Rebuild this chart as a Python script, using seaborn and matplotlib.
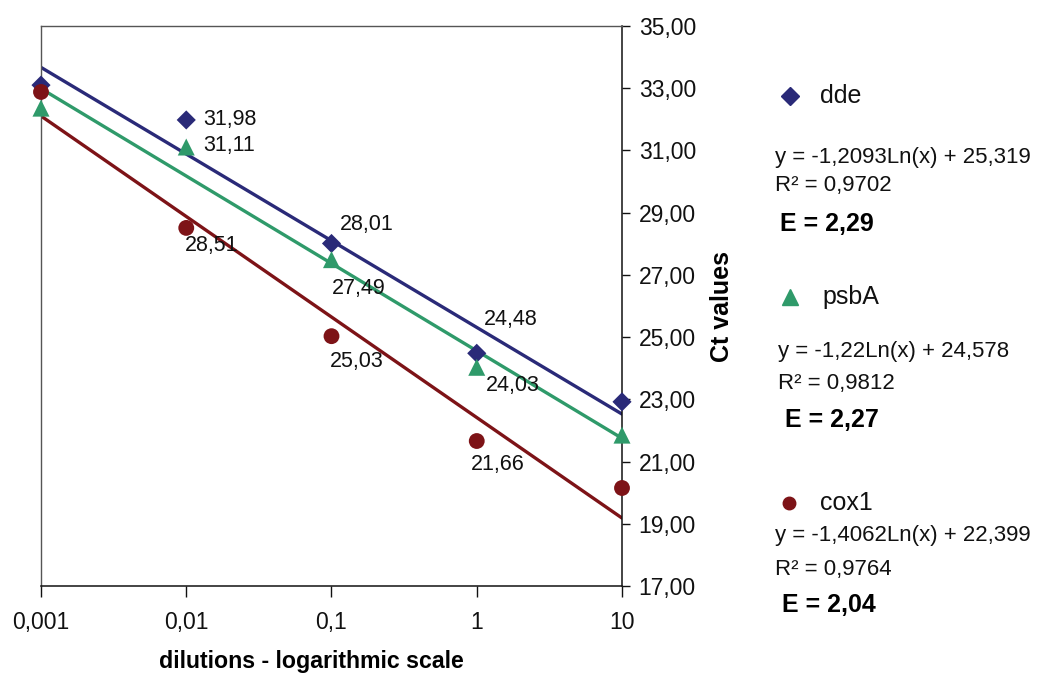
import numpy as np
import pandas as pd
import matplotlib
matplotlib.use("Agg")
import matplotlib.pyplot as plt
from matplotlib.ticker import FixedLocator, FuncFormatter, NullLocator
import seaborn as sns

# ---- data ----
dilutions = [0.001, 0.01, 0.1, 1, 10]
dilution_labels = ["0,001", "0,01", "0,1", "1", "10"]
dde = [33.10, 31.98, 28.01, 24.48, 22.92]
psbA = [32.36, 31.11, 27.49, 24.03, 21.85]
cox1 = [32.88, 28.51, 25.03, 21.66, 20.15]
series_names = ["dde", "psbA", "cox1"]
equations = ["y = -1,2093Ln(x) + 25,319", "y = -1,22Ln(x) + 24,578", "y = -1,4062Ln(x) + 22,399"]
r2_texts = ["R² = 0,9702", "R² = 0,9812", "R² = 0,9764"]
eff_texts = ["E = 2,29", "E = 2,27", "E = 2,04"]
y_ticks = [17, 19, 21, 23, 25, 27, 29, 31, 33, 35]

colors = {"dde": "#2a2a78", "psbA": "#2f9a6a", "cox1": "#7d1317"}
markers = {"dde": "D", "psbA": "^", "cox1": "o"}
msizes = {"dde": 95, "psbA": 150, "cox1": 130}

sns.set_style("white")
plt.rcParams["font.family"] = ["Liberation Sans", "DejaVu Sans"]

fig = plt.figure(figsize=(10.46, 6.75), dpi=100)
ax = fig.add_axes([41 / 1046, 89 / 675, 581 / 1046, 560 / 675])

values = {"dde": dde, "psbA": psbA, "cox1": cox1}
df = pd.concat([pd.DataFrame({"dilution": dilutions, "ct": values[n], "gene": n}) for n in series_names])

# trendlines (log fit)
xs = np.logspace(-3, 1, 200)
for n in series_names:
    k, b = np.polyfit(np.log(dilutions), values[n], 1)
    sns.lineplot(x=xs, y=k * np.log(xs) + b, ax=ax, color=colors[n], lw=2.4, zorder=2)

for n in series_names:
    sub = df[df.gene == n]
    sns.scatterplot(data=sub, x="dilution", y="ct", ax=ax, color=colors[n], marker=markers[n],
                    s=msizes[n], edgecolor="none", zorder=3, clip_on=False)

ax.set_xscale("log")
ax.set_xlim(0.001, 10)
ax.set_ylim(17, 35)

# data labels
label_offsets = {
    ("dde", 1): (12, 0), ("psbA", 1): (12, 1), ("dde", 2): (6, 14),
    ("psbA", 2): (0, -21), ("cox1", 1): (-1, -13), ("cox1", 2): (-1.5, -18),
    ("dde", 3): (5, 24), ("psbA", 3): (6.5, -13), ("cox1", 3): (-4.5, -17),
}
for (n, i), off in label_offsets.items():
    v = values[n][i]
    ax.annotate(f"{v:.2f}".replace(".", ","), (dilutions[i], v), xytext=off,
                textcoords="offset points", ha="left", va="center", fontsize=15.5, color="#111111")

# axes styling
ax.yaxis.tick_right()
ax.yaxis.set_label_position("right")
ax.yaxis.set_major_locator(FixedLocator(y_ticks))
ax.yaxis.set_major_formatter(FuncFormatter(lambda v, p: f"{v:.2f}".replace(".", ",")))
ax.xaxis.set_major_locator(FixedLocator(dilutions))
ax.xaxis.set_major_formatter(FuncFormatter(lambda v, p: dilution_labels[dilutions.index(min(dilutions, key=lambda d: abs(np.log10(d) - np.log10(v))))]))
ax.xaxis.set_minor_locator(NullLocator())
ax.tick_params(axis="y", which="major", right=True, left=False, direction="out", length=6,
               width=1, labelsize=16.5, pad=6, colors="#111111")
ax.tick_params(axis="x", which="major", bottom=True, direction="out", length=8, width=1,
               labelsize=16.5, pad=10, colors="#111111")
for s in ["top", "left"]:
    ax.spines[s].set_color("#555555")
    ax.spines[s].set_linewidth(1)
for s in ["right", "bottom"]:
    ax.spines[s].set_color("#111111")
    ax.spines[s].set_linewidth(1.1)

ax.set_xlabel("dilutions - logarithmic scale", fontsize=16.7, fontweight="bold", color="black")
ax.xaxis.set_label_coords(0.465, -0.115)
ax.set_ylabel("Ct values", fontsize=18, fontweight="bold", labelpad=10, rotation=90, color="black")

# right-side legend with equations
def px(x, y):
    return x / 1046, 1 - y / 675

legend_layout = [
    # marker(x,y), name(x,y), eq(x,y), r2(x,y), E(x,y)
    ((790, 96), (820, 96), (775, 157), (775, 185), (780, 224)),
    ((790, 297), (822, 297), (778, 352), (778, 384), (785, 420)),
    ((789, 503), (820, 503), (775, 535), (775, 569), (782, 605)),
]
for n, eq, r2, et, lay in zip(series_names, equations, r2_texts, eff_texts, legend_layout):
    mx, my = px(*lay[0])
    fig.lines.append(plt.Line2D([mx], [my], transform=fig.transFigure, marker=markers[n],
                                color=colors[n], markersize=9 if n != "psbA" else 11, linestyle="none"))
    fig.text(*px(*lay[1]), n, fontsize=18, va="center", ha="left", color="#111111")
    fig.text(*px(*lay[2]), eq, fontsize=16, va="center", ha="left", color="#111111")
    fig.text(*px(*lay[3]), r2, fontsize=16, va="center", ha="left", color="#111111")
    fig.text(*px(*lay[4]), et, fontsize=18, va="center", ha="left", fontweight="bold", color="#000000")

fig.savefig("out.png", dpi=100)
